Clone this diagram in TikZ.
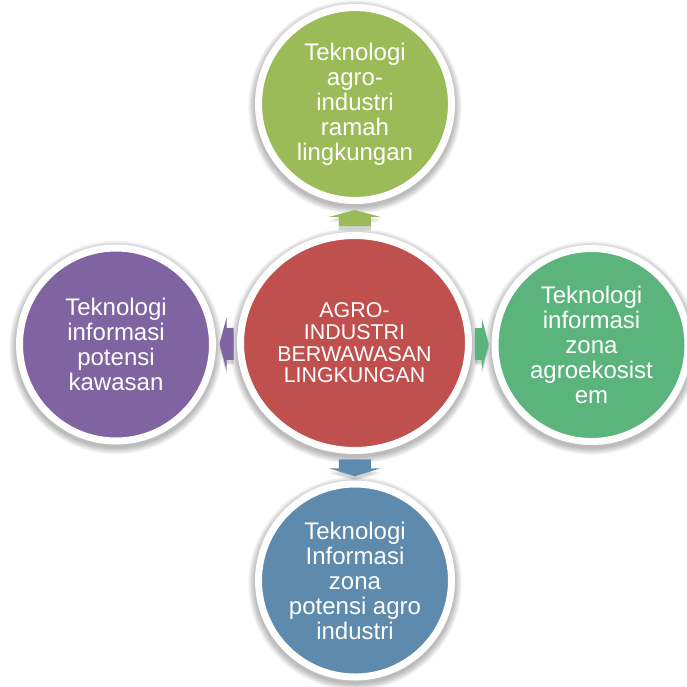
\documentclass[tikz,border=0pt]{standalone}
\usepackage{fontspec}
\setmainfont{Liberation Sans}
\usetikzlibrary{shapes.geometric,calc}
\definecolor{cgreen}{HTML}{9BBB59}
\definecolor{cred}{HTML}{C0504D}
\definecolor{cpurple}{HTML}{8064A2}
\definecolor{cteal}{HTML}{5BB47C}
\definecolor{cblue}{HTML}{5E8BAD}
\pgfdeclarelayer{bg}
\pgfsetlayers{bg,main}
\tikzset{
  outer/.style={circle, draw=white, line width=7pt, minimum size=193pt, inner sep=0pt,
    text=white, align=center, font=\fontsize{24}{25}\selectfont},
  hub/.style={ellipse, draw=white, line width=7pt, minimum width=228pt, minimum height=215pt,
    inner sep=0pt, text=white, align=center, font=\fontsize{21.4}{21.6}\selectfont},
  shade/.style={black, opacity=0.035},
}
\begin{document}
\begin{tikzpicture}[x=1pt,y=-1pt]
\useasboundingbox (0,0) rectangle (687,686);
\clip (0,0) rectangle (687,686);

\node[hub, fill=cred] (c) at (354.5,343) {AGRO-\\INDUSTRI\\BERWAWASAN\\LINGKUNGAN};
\node[outer, fill=cgreen] (t) at (355,104) {Teknologi\\agro-\\industri\\ramah\\lingkungan};
\node[outer, fill=cpurple] (l) at (116,344.5) {Teknologi\\informasi\\potensi\\kawasan};
\node[outer, fill=cteal] (r) at (591.5,345) {Teknologi\\informasi\\zona\\agroekosist\\em};
\node[outer, fill=cblue] (b) at (355,580.5) {Teknologi\\Informasi\\zona\\potensi agro\\industri};

\begin{pgfonlayer}{bg}
  \fill[white] (0,0) rectangle (687,686);
  % soft shadows
  \foreach \n/\rx/\ry in {c/118/111.5, t/100.5/100.5, l/100.5/100.5, r/100.5/100.5, b/100.5/100.5}{
    \foreach \k in {0,1,...,7}{
      \fill[shade] ($(\n.center)+(0,3)$) ellipse [x radius={(\rx+\k*0.9)*1pt}, y radius={(\ry+\k*0.9)*1pt}];
    }
  }
  % arrows
  \coordinate (au) at ($(c.north)!0.5!(t.south)$);
  \coordinate (ad) at ($(c.south)!0.5!(b.north)$);
  \coordinate (al) at ($(c.west)!0.5!(l.east)$);
  \coordinate (ar) at ($(c.east)!0.5!(r.west)$);
  \foreach \k in {1,2,3}{
    \fill[shade, opacity=0.06] ($(au)+(0,2+\k)$) ++(-16,8) -- ++(0,-9) -- ++(-10,0) -- ++(26,-7) -- ++(26,7) -- ++(-10,0) -- ++(0,9) -- cycle;
    \fill[shade, opacity=0.06] ($(ad)+(0,2+\k)$) ++(-16,-8) -- ++(0,9) -- ++(-10,0) -- ++(26,8) -- ++(26,-8) -- ++(-10,0) -- ++(0,-9) -- cycle;
    \fill[shade, opacity=0.06] ($(al)+(0,2+\k)$) ++(7,-16) -- ++(-7,0) -- ++(0,-10) -- ++(-7,26) -- ++(7,26) -- ++(0,-10) -- ++(7,0) -- cycle;
    \fill[shade, opacity=0.06] ($(ar)+(0,2+\k)$) ++(-7,-16) -- ++(7,0) -- ++(0,-10) -- ++(7,26) -- ++(-7,26) -- ++(0,-10) -- ++(-7,0) -- cycle;
  }
  \fill[cgreen] (au) ++(-16,8) -- ++(0,-9) -- ++(-10,0) -- ++(26,-7) -- ++(26,7) -- ++(-10,0) -- ++(0,9) -- cycle;
  \fill[cblue] (ad) ++(-16,-8) -- ++(0,9) -- ++(-10,0) -- ++(26,8) -- ++(26,-8) -- ++(-10,0) -- ++(0,-9) -- cycle;
  \fill[cpurple] (al) ++(7,-16) -- ++(-7,0) -- ++(0,-10) -- ++(-7,26) -- ++(7,26) -- ++(0,-10) -- ++(7,0) -- cycle;
  \fill[cteal] (ar) ++(-7,-16) -- ++(7,0) -- ++(0,-10) -- ++(7,26) -- ++(-7,26) -- ++(0,-10) -- ++(-7,0) -- cycle;
\end{pgfonlayer}
\end{tikzpicture}
\end{document}
